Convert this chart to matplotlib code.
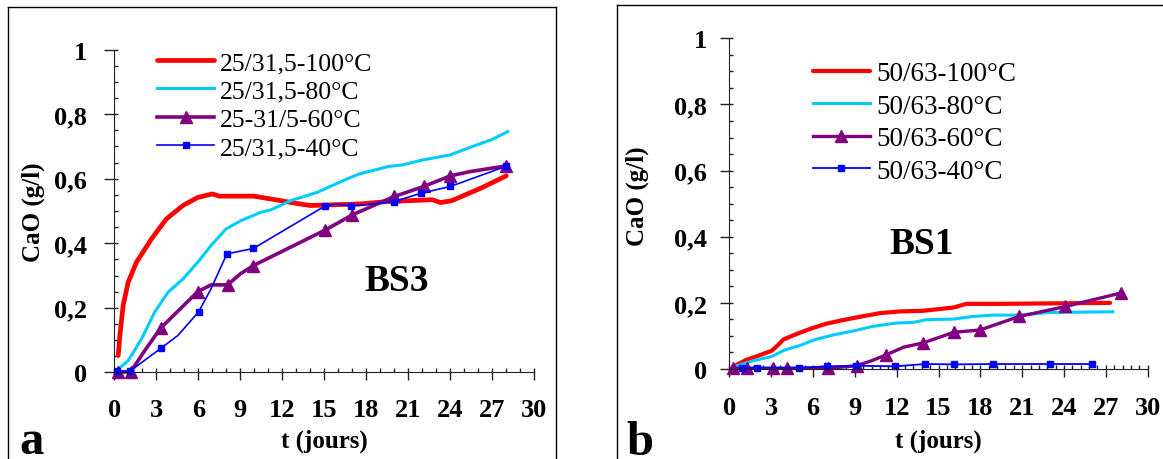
import matplotlib
matplotlib.use("Agg")
import matplotlib.pyplot as plt
from matplotlib.ticker import MultipleLocator, FixedLocator, FixedFormatter
from matplotlib.lines import Line2D

plt.rcParams['font.family'] = ['Liberation Serif', 'DejaVu Serif']

# ============================================================
# DATA - PANEL a (BS3)
# ============================================================

a_100_t = [0.28, 0.40, 0.63, 0.99, 1.58, 2.65, 3.71, 4.9, 5.96, 7.02, 7.5, 9.98,
           11.9, 12.8, 14.0, 17.6, 19.4, 22.7, 23.3, 24.1, 26.2, 28.0]
a_100_c = [0.052, 0.114, 0.207, 0.279, 0.341, 0.413, 0.475, 0.517, 0.542, 0.553, 0.546, 0.546,
           0.532, 0.525, 0.517, 0.522, 0.529, 0.535, 0.526, 0.532, 0.571, 0.609]

a_80_t = [0.16, 0.99, 1.94, 2.88, 3.83, 4.9, 5.96, 6.91, 7.97, 9.04, 10.46, 11.2,
          12.6, 14.5, 16.6, 17.5, 19.6, 20.6, 22.0, 24.0, 24.9, 27.0, 28.1]
a_80_c = [0.005, 0.036, 0.103, 0.186, 0.248, 0.289, 0.341, 0.393, 0.444, 0.470, 0.496, 0.504,
          0.532, 0.558, 0.599, 0.615, 0.638, 0.643, 0.658, 0.674, 0.689, 0.722, 0.746]

a_60_t = [0.23, 1.18, 2.17, 3.31, 5.96, 6.91, 8.09, 9.0, 9.94, 15.07, 17.0, 20.0, 22.1, 24.0, 25.4, 28.0]
a_60_c = [0.0, 0.002, 0.067, 0.137, 0.25, 0.271, 0.271, 0.305, 0.331, 0.441, 0.488, 0.545, 0.576, 0.609, 0.622, 0.640]
a_60_marks = [0, 1, 3, 4, 6, 8, 9, 10, 11, 12, 13, 15]

a_40_t = [0.21, 1.11, 3.31, 4.54, 6.03, 6.9, 8.04, 9.94, 15.03, 15.9, 16.92, 19.96, 21.9, 24.0, 27.95]
a_40_c = [0.003, 0.003, 0.074, 0.114, 0.188, 0.258, 0.367, 0.384, 0.515, 0.522, 0.515, 0.529, 0.555, 0.576, 0.638]
a_40_marks = [0, 1, 2, 4, 6, 7, 8, 10, 11, 12, 13, 14]

a_labels = ["25/31,5-100°C", "25/31,5-80°C", "25-31/5-60°C", "25/31,5-40°C"]

# ============================================================
# DATA - PANEL b (BS1)
# ============================================================

b_100_t = [0.41, 1.24, 2.2, 3.04, 3.51, 3.87, 4.83, 5.78, 6.86, 7.93, 9.13, 10.8,
           12.2, 13.9, 16.1, 17.0, 19.4, 27.3]
b_100_c = [0.010, 0.028, 0.042, 0.055, 0.073, 0.089, 0.106, 0.121, 0.136, 0.146, 0.156, 0.169,
           0.174, 0.176, 0.186, 0.197, 0.197, 0.200]

b_80_t = [0.41, 1.72, 3.04, 4.0, 5.07, 6.15, 7.46, 9.0, 10.3, 12.0, 13.2, 14.1,
          16.1, 17.5, 18.9, 20.8, 23.0, 27.5]
b_80_c = [0.008, 0.025, 0.038, 0.058, 0.071, 0.089, 0.103, 0.116, 0.129, 0.139, 0.141, 0.149,
          0.151, 0.159, 0.163, 0.163, 0.171, 0.173]

b_60_t = [0.29, 1.24, 3.16, 4.16, 7.1, 9.13, 10.2, 11.2, 12.5, 13.9, 16.1, 17.97, 20.8, 24.1, 28.1]
b_60_c = [0.002, 0.002, 0.002, 0.002, 0.002, 0.010, 0.025, 0.042, 0.066, 0.079, 0.111, 0.118, 0.159, 0.189, 0.230]
b_60_marks = [0, 1, 2, 3, 4, 5, 7, 9, 10, 11, 12, 13, 14]

b_40_t = [0.9, 1.96, 5.0, 7.03, 9.08, 11.9, 14.0, 16.1, 18.9, 23.0, 26.0]
b_40_c = [0.004, 0.004, 0.004, 0.008, 0.010, 0.008, 0.015, 0.014, 0.015, 0.015, 0.015]

b_labels = ["50/63-100°C", "50/63-80°C", "50/63-60°C", "50/63-40°C"]

y_ticks = [0, 0.2, 0.4, 0.6, 0.8, 1]
y_tick_labels = ["0", "0,2", "0,4", "0,6", "0,8", "1"]
x_ticks = [0, 3, 6, 9, 12, 15, 18, 21, 24, 27, 30]

# ============================================================
# FIGURE
# ============================================================

W, H = 1163, 460
fig = plt.figure(figsize=(W / 100, H / 100), dpi=100)


def px_axes(x0, x1, y_top, y_bot):
    return [x0 / W, 1 - y_bot / H, (x1 - x0) / W, (y_bot - y_top) / H]


ax_a = fig.add_axes(px_axes(114.3, 534.3, 50.7, 373.3))
ax_b = fig.add_axes(px_axes(729.3, 1147.7, 39.3, 370.0))

# panel frames (run off the bottom / right of the picture)
frame_kw = dict(color="black", lw=1.0, transform=fig.transFigure)
fig.add_artist(Line2D([7.7 / W, 7.7 / W], [0, 1 - 7.7 / H], **frame_kw))
fig.add_artist(Line2D([7.7 / W, 555.7 / W], [1 - 7.7 / H, 1 - 7.7 / H], **frame_kw))
fig.add_artist(Line2D([555.7 / W, 555.7 / W], [0, 1 - 7.7 / H], **frame_kw))
fig.add_artist(Line2D([616.7 / W, 616.7 / W], [0, 1 - 5.7 / H], **frame_kw))
fig.add_artist(Line2D([616.7 / W, 1], [1 - 5.7 / H, 1 - 5.7 / H], **frame_kw))

red, cyan, purple, blue = "#FF0000", "#00CCFF", "#800080", "#0000FF"

# ============================================================
# PANEL a
# ============================================================

ax_a.plot(a_100_t, a_100_c, color=red, lw=3.4, label=a_labels[0], clip_on=False,
          solid_capstyle="round")
ax_a.plot(a_80_t, a_80_c, color=cyan, lw=2.2, label=a_labels[1], clip_on=False)
ax_a.plot(a_60_t, a_60_c, color=purple, lw=2.6, marker="^", ms=8, markevery=a_60_marks,
          label=a_labels[2], clip_on=False)
ax_a.plot(a_40_t, a_40_c, color=blue, lw=1.2, marker="s", ms=4.5, markevery=a_40_marks,
          label=a_labels[3], clip_on=False)

# ============================================================
# PANEL b
# ============================================================

ax_b.plot(b_100_t, b_100_c, color=red, lw=3.0, label=b_labels[0], clip_on=False,
          solid_capstyle="round")
ax_b.plot(b_80_t, b_80_c, color=cyan, lw=2.2, label=b_labels[1], clip_on=False)
ax_b.plot(b_60_t, b_60_c, color=purple, lw=2.4, marker="^", ms=8, markevery=b_60_marks,
          label=b_labels[2], clip_on=False)
ax_b.plot(b_40_t, b_40_c, color=blue, lw=1.3, marker="s", ms=4.5,
          label=b_labels[3], clip_on=False)

# ============================================================
# AXES STYLE
# ============================================================

for ax, minor_x, ypad, xpad, ylen in [(ax_a, 1, 12.7, 12.7, 7.2), (ax_b, 0.6, 9.6, 13.5, 6.2)]:
    ax.set_xlim(0, 30)
    ax.set_ylim(0, 1)
    for side in ["top", "right"]:
        ax.spines[side].set_visible(False)
    ax.spines["left"].set_color("#222222")
    ax.spines["bottom"].set_color("#222222")
    ax.xaxis.set_major_locator(FixedLocator(x_ticks))
    ax.xaxis.set_minor_locator(MultipleLocator(minor_x))
    ax.yaxis.set_major_locator(FixedLocator(y_ticks))
    ax.yaxis.set_major_formatter(FixedFormatter(y_tick_labels))
    ax.yaxis.set_minor_locator(MultipleLocator(0.05))
    ax.xaxis.remove_overlapping_locs = False
    ax.yaxis.remove_overlapping_locs = False
    ax.tick_params(axis="y", which="major", direction="out", length=ylen, width=1,
                   pad=ypad, labelsize=19, color="#222222")
    ax.tick_params(axis="x", which="major", direction="out", length=6, width=1,
                   pad=xpad, labelsize=19, color="#222222")
    ax.tick_params(which="minor", direction="in", length=3, width=1, color="#222222")
    for lab in ax.get_xticklabels() + ax.get_yticklabels():
        lab.set_fontweight("bold")
    ax.set_xlabel("t (jours)", fontsize=18, fontweight="bold", va="center")
    ax.set_ylabel("CaO (g/l)", fontsize=18, fontweight="bold", va="center")

ax_a.xaxis.set_label_coords(0.5, -0.21)
ax_a.yaxis.set_label_coords(-0.194, 0.50)
ax_b.xaxis.set_label_coords(0.5, -0.217)
ax_b.yaxis.set_label_coords(-0.221, 0.527)

ax_a.text(20.2, 0.284, "BS3", fontsize=27, fontweight="bold", ha="center", va="center")
ax_b.text(13.8, 0.378, "BS1", fontsize=27, fontweight="bold", ha="center", va="center")

fig.text(31.3 / W, 1 - 454 / H, "a", fontsize=35, fontweight="bold", ha="center", va="baseline")
fig.text(639.7 / W, 1 - 455 / H, "b", fontsize=35, fontweight="bold", ha="center", va="baseline")

# ============================================================
# LEGENDS
# ============================================================

ax_a.legend(loc="upper left", bbox_to_anchor=(157.3 / W, 1 - 52 / H),
            bbox_transform=fig.transFigure, frameon=False, borderpad=0,
            borderaxespad=0, handlelength=2.2, handletextpad=0.25,
            labelspacing=0.21, fontsize=18.5)
ax_b.legend(loc="upper left", bbox_to_anchor=(812.7 / W, 1 - 62 / H),
            bbox_transform=fig.transFigure, frameon=False, borderpad=0,
            borderaxespad=0, handlelength=2.1, handletextpad=0.25,
            labelspacing=0.28, fontsize=19.5)

fig.savefig("out.png", dpi=100)
